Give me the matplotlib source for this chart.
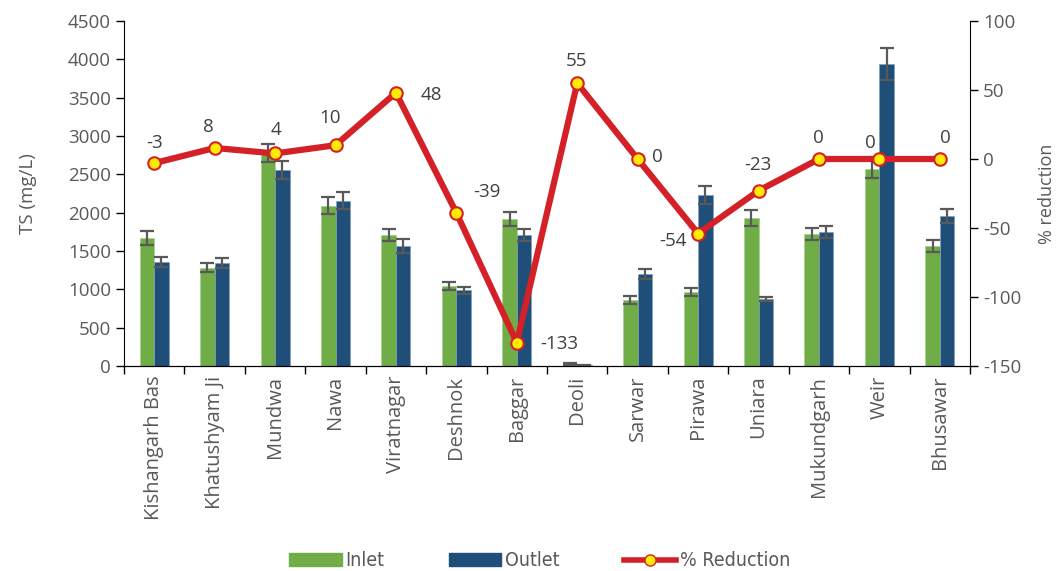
import matplotlib
matplotlib.use("Agg")
import matplotlib.pyplot as plt
import numpy as np
from matplotlib.lines import Line2D
from matplotlib.patches import Patch

plt.rcParams["axes.unicode_minus"] = False
plt.rcParams["font.family"] = ["Open Sans", "DejaVu Sans"]

sites = ["Kishangarh Bas", "Khatushyam Ji", "Mundwa", "Nawa", "Viratnagar", "Deshnok",
         "Baggar", "Deoli", "Sarwar", "Pirawa", "Uniara", "Mukundgarh", "Weir", "Bhusawar"]
inlet = [1670, 1280, 2780, 2090, 1710, 1045, 1915, 25, 860, 965, 1930, 1720, 2570, 1565]
inlet_err = [90, 60, 120, 110, 80, 50, 90, 8, 50, 55, 110, 80, 120, 80]
outlet = [1355, 1345, 2555, 2155, 1565, 990, 1705, 12, 1200, 2230, 875, 1750, 3940, 1955]
outlet_err = [70, 65, 120, 110, 90, 45, 80, 6, 60, 120, 30, 80, 210, 90]
reduction = [-3, 8, 4, 10, 48, -39, -133, 55, 0, -54, -23, 0, 0, 0]
# label offsets in pixels (dx, dy) for the % reduction labels
label_off = [(0, 20), (-6, 21), (1, 23), (-5, 27), (35, -2), (31, 21), (42, -1), (-1, 22),
             (20, 2), (-25, -7), (-1, 26), (-1, 21), (-9, 16), (6, 21)]

txt = "#595959"
green = "#70AD47"
blue = "#1F4E79"
red = "#D42027"

fig = plt.figure(figsize=(10.61, 5.71), dpi=100)
ax = fig.add_axes([124/1061, 1-366/571, (970-124)/1061, (366-21)/571])
x = np.arange(len(sites))
w = 0.24
ax.bar(x - w/2, inlet, w, color=green, edgecolor="#a9cf8f", linewidth=0.5, zorder=2)
ax.bar(x + w/2, outlet, w, color=blue, edgecolor="#7f9fbf", linewidth=0.5, zorder=2)
ekw = dict(fmt="none", ecolor="#595959", elinewidth=1.6, capsize=5, capthick=1.6, zorder=3)
ax.errorbar(x - w/2, inlet, yerr=inlet_err, **ekw)
ax.errorbar(x + w/2, outlet, yerr=outlet_err, **ekw)

ax.set_xlim(-0.5, len(sites) - 0.5)
ax.set_ylim(0, 4500)
ax.set_yticks(np.arange(0, 4501, 500))
ax.set_xticks(x)
ax.set_xticklabels(sites, rotation=90, fontsize=14.5, color=txt)
ax.set_xticks(np.arange(-0.5, len(sites)), minor=True)
ax.tick_params(axis="x", which="major", length=0, pad=7)
ax.tick_params(axis="x", which="minor", length=6, direction="out", width=1)
ax.tick_params(axis="y", labelsize=13.5, labelcolor=txt, length=6, width=1)
ax.set_ylabel("TS (mg/L)", fontsize=13.5, color=txt, labelpad=22)
ax.spines["top"].set_visible(False)
ax.spines["right"].set_visible(False)

ax2 = ax.twinx()
ax2.set_ylim(-150, 100)
ax2.set_yticks(np.arange(-150, 101, 50))
ax2.tick_params(axis="y", labelsize=13.5, labelcolor=txt, length=6, width=1, direction="out")
ax2.spines["top"].set_visible(False)
ax2.spines["left"].set_visible(False)
ax2.set_ylabel("% reduction", fontsize=13, color=txt, labelpad=12)
ax2.plot(x, reduction, color=red, lw=4.5, marker="o", markersize=9,
         markerfacecolor="#FFEC00", markeredgecolor=red, markeredgewidth=1.5, zorder=5)
for xi, yi, (dx, dy) in zip(x, reduction, label_off):
    ax2.annotate(str(yi), (xi, yi), xytext=(dx*0.72, dy*0.72), textcoords="offset points",
                 ha="center", va="center", fontsize=13.5, color="#404040")

handles = [Patch(color=green), Patch(color=blue),
           Line2D([], [], color=red, lw=4, marker="o", markersize=8,
                  markerfacecolor="#FFEC00", markeredgecolor=red)]
fig.legend(handles, ["Inlet", "Outlet", "% Reduction"], loc="center",
           bbox_to_anchor=(540/1061, 1-561/571), ncol=3, frameon=False,
           prop={"family": "DejaVu Sans", "stretch": "condensed", "size": 14}, labelcolor=txt,
           handlelength=2.7, handleheight=0.65, handletextpad=0.2, columnspacing=3.3)

fig.savefig("out.png", dpi=100)
